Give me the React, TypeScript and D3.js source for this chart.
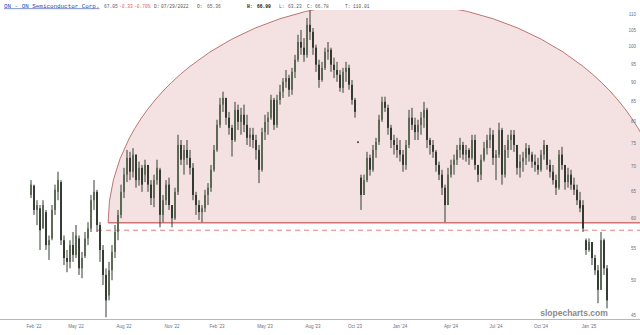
import React from 'react';
import * as d3 from 'd3';

const W = 640;
const H = 335;

// ON Semiconductor, bars (about 2.5 trading days each)
const opens = [
  64.4, 66.2, 61.6, 61.9, 58.3, 61.2, 55.5, 56.6, 61.6, 65.0,
  66.9, 56.3, 53.4, 52.8, 55.5, 53.9, 56.6, 51.8, 53.7, 56.6,
  58.3, 63.4, 65.0, 58.9, 54.7, 50.8, 47.8, 51.5, 54.4, 57.7,
  60.7, 65.0, 68.4, 71.9, 69.0, 72.6, 67.3, 69.8, 68.4, 70.4,
  66.4, 63.8, 67.3, 69.4, 60.7, 63.4, 66.4, 62.5, 60.1, 65.0,
  74.7, 71.5, 73.6, 71.9, 69.8, 64.4, 62.5, 61.2, 61.9, 64.4,
  65.8, 69.4, 73.6, 79.3, 84.2, 85.9, 81.0, 78.6, 75.8, 82.9,
  80.0, 81.7, 79.3, 76.3, 77.0, 75.8, 73.6, 69.4, 77.6, 80.0,
  81.0, 85.4, 79.3, 85.4, 87.5, 90.1, 91.1, 88.0, 92.8, 96.2,
  101.4, 99.7, 97.6, 106.7, 104.5, 99.7, 94.8, 90.6, 93.9, 98.5,
  99.1, 94.8, 93.3, 92.0, 88.5, 92.8, 93.9, 89.3, 85.4, 75.4,
  67.8, 64.4, 67.3, 71.9, 69.4, 73.6, 75.4, 80.5, 84.9, 83.4,
  78.6, 75.8, 74.7, 73.6, 72.6, 70.4, 74.7, 81.0, 79.3, 77.6,
  79.3, 81.0, 82.9, 75.8, 74.7, 73.2, 70.4, 68.4, 65.8, 62.5,
  68.4, 70.4, 71.5, 73.6, 74.7, 72.6, 73.6, 71.9, 75.8, 70.4,
  68.4, 71.5, 74.0, 75.8, 77.0, 71.9, 72.6, 78.1, 68.4, 73.6,
  75.8, 77.0, 74.7, 69.8, 71.1, 71.9, 74.0, 72.6, 71.1, 70.4,
  69.4, 72.6, 74.7, 70.4, 69.0, 67.3, 65.8, 72.6, 70.4, 66.9,
  68.4, 66.4, 65.4, 63.4, 62.5, 56.3, 54.7, 56.0, 53.4, 51.5,
  48.6, 56.3, 51.8,
];
const highs = [
  67.3, 66.4, 63.4, 62.5, 63.4, 61.6, 57.1, 62.5, 66.4, 69.0,
  67.3, 57.1, 54.7, 56.3, 57.7, 58.9, 57.1, 54.4, 57.7, 59.4,
  64.4, 67.3, 65.4, 59.4, 55.5, 51.8, 52.8, 55.5, 58.9, 61.6,
  66.4, 69.8, 73.6, 73.2, 74.0, 72.6, 71.1, 70.4, 71.5, 70.4,
  67.3, 68.4, 71.5, 69.8, 64.4, 67.3, 67.8, 62.5, 65.8, 77.0,
  75.8, 74.7, 75.8, 73.6, 70.8, 65.0, 63.4, 62.5, 65.4, 66.7,
  70.4, 74.7, 80.5, 85.9, 87.5, 85.9, 82.4, 79.3, 84.9, 84.2,
  83.4, 84.2, 81.7, 78.6, 78.6, 77.0, 74.7, 78.6, 81.7, 82.4,
  86.7, 85.9, 86.7, 89.3, 91.1, 93.3, 92.0, 93.9, 97.6, 103.6,
  105.1, 102.6, 108.9, 111.3, 105.7, 100.6, 96.2, 95.6, 99.7, 101.4,
  99.7, 96.8, 95.6, 93.3, 93.9, 95.6, 94.8, 90.6, 85.9, 75.6,
  68.4, 68.4, 73.2, 72.6, 74.7, 76.3, 81.7, 86.2, 86.2, 84.2,
  79.3, 77.0, 76.3, 75.8, 73.6, 75.8, 82.9, 83.4, 81.0, 80.5,
  82.4, 84.9, 83.4, 76.3, 75.8, 73.6, 71.1, 69.4, 66.4, 69.8,
  71.5, 72.6, 74.7, 76.3, 75.4, 74.7, 74.0, 77.0, 77.0, 70.4,
  72.6, 75.4, 77.0, 78.6, 78.1, 73.6, 79.8, 78.6, 74.7, 77.0,
  78.1, 78.1, 74.7, 72.6, 73.2, 75.1, 74.7, 73.2, 72.6, 71.9,
  73.6, 75.8, 74.7, 71.5, 70.4, 68.4, 73.6, 74.3, 70.4, 69.8,
  69.4, 67.8, 66.4, 65.0, 63.4, 56.6, 56.6, 56.0, 53.9, 52.3,
  57.7, 56.6, 52.3,
];
const lows = [
  63.8, 60.7, 58.9, 54.7, 58.3, 54.7, 53.1, 56.3, 60.7, 63.4,
  55.5, 52.3, 51.2, 51.8, 52.8, 53.4, 50.8, 50.3, 53.4, 55.5,
  57.7, 61.6, 57.7, 52.8, 49.3, 44.8, 47.1, 50.0, 53.4, 56.3,
  60.1, 63.8, 66.9, 67.3, 67.8, 65.8, 66.2, 65.0, 66.9, 65.0,
  62.5, 62.1, 66.4, 58.5, 59.4, 62.5, 61.6, 58.5, 59.8, 64.4,
  70.4, 68.4, 70.4, 68.4, 63.4, 60.7, 59.8, 59.4, 61.2, 62.5,
  65.0, 69.0, 73.2, 78.6, 82.4, 79.3, 77.0, 72.2, 75.4, 78.1,
  77.0, 77.6, 74.7, 74.3, 74.0, 71.5, 66.7, 69.0, 75.8, 77.0,
  80.5, 78.1, 78.6, 84.2, 85.9, 88.5, 86.2, 86.7, 91.1, 95.6,
  97.6, 95.6, 96.8, 102.0, 97.6, 92.8, 88.5, 90.1, 93.3, 96.2,
  92.8, 91.1, 90.1, 87.5, 87.2, 90.1, 88.0, 84.2, 81.0, 75.1,
  61.6, 64.4, 66.9, 68.2, 69.0, 71.9, 74.7, 80.0, 82.4, 77.0,
  74.0, 72.6, 71.9, 71.1, 69.0, 69.4, 74.0, 78.1, 75.8, 75.8,
  77.0, 78.6, 74.0, 72.6, 71.9, 69.0, 67.3, 64.4, 59.4, 62.5,
  67.8, 68.4, 70.4, 71.9, 71.5, 71.1, 70.4, 71.5, 69.4, 66.9,
  67.3, 71.1, 72.6, 74.0, 70.4, 67.3, 71.9, 66.4, 67.8, 71.9,
  73.6, 73.2, 68.4, 67.8, 69.0, 70.4, 71.1, 69.8, 69.0, 68.4,
  69.0, 71.5, 69.4, 67.8, 66.4, 64.4, 65.4, 69.4, 65.4, 65.8,
  65.4, 64.4, 62.5, 61.2, 57.7, 53.9, 54.4, 52.3, 50.8, 46.7,
  48.6, 50.8, 46.0,
];
const closes = [
  66.4, 61.6, 62.5, 58.0, 62.5, 55.5, 56.3, 61.6, 65.4, 67.3,
  56.3, 53.4, 52.8, 55.5, 53.9, 57.1, 51.8, 53.4, 56.6, 58.3,
  63.4, 65.0, 58.9, 54.7, 50.8, 47.1, 51.5, 54.4, 57.7, 60.7,
  65.0, 68.4, 71.9, 69.0, 72.6, 67.3, 69.8, 66.4, 70.4, 66.4,
  63.8, 67.3, 69.8, 60.7, 63.4, 66.4, 62.5, 60.1, 65.0, 74.7,
  71.5, 73.6, 71.9, 69.8, 64.4, 62.5, 61.2, 61.9, 64.4, 65.8,
  69.4, 73.6, 79.3, 84.2, 85.9, 81.0, 78.6, 75.8, 82.9, 80.0,
  81.7, 79.3, 76.3, 77.0, 75.8, 73.6, 69.4, 77.6, 80.0, 81.0,
  85.4, 79.3, 85.4, 87.5, 90.1, 91.1, 88.0, 92.8, 96.2, 101.4,
  99.7, 97.6, 106.7, 104.5, 99.7, 94.8, 90.6, 93.9, 98.5, 99.1,
  94.8, 93.3, 92.0, 88.5, 92.8, 93.9, 89.3, 85.4, 82.4, 75.3,
  64.4, 67.3, 71.9, 69.4, 73.6, 75.4, 80.5, 84.9, 83.4, 78.6,
  75.8, 74.7, 73.6, 72.6, 70.4, 74.7, 81.0, 79.3, 77.6, 79.3,
  81.0, 82.9, 75.8, 74.7, 73.2, 70.4, 68.4, 65.8, 62.5, 68.4,
  70.4, 71.5, 73.6, 74.7, 72.6, 73.6, 71.9, 75.8, 70.4, 68.4,
  71.5, 74.0, 75.8, 77.0, 71.9, 72.6, 78.1, 68.4, 73.6, 75.8,
  77.0, 74.7, 69.8, 71.1, 71.9, 74.0, 72.6, 71.1, 70.4, 69.4,
  72.6, 74.7, 70.4, 69.0, 67.3, 65.8, 72.6, 70.4, 66.9, 68.4,
  66.4, 65.4, 63.4, 61.9, 58.3, 54.7, 56.0, 53.4, 51.5, 48.6,
  56.3, 51.8, 47.1,
];

const xTickBars = [1, 15, 31, 47, 62, 78, 94, 108, 123, 140, 155, 170, 186];
const xTickLabels = [
  "Feb '22", "May '22", "Aug '22", "Nov '22", "Feb '23", "May '23", "Aug '23",
  "Oct '23", "Jan '24", "Apr '24", "Jul '24", "Oct '24", "Jan '25",
];
const yTicks = [45, 50, 55, 60, 65, 70, 75, 80, 85, 90, 95, 100, 105, 110];

// annotation: arc drawn from a base level, and a dashed support level
const arcStartBar = 25.7;
const arcEndBar = 211.3;
const arcBasePrice = 59.3;
const arcTopPrice = 114.2;
const supportPrice = 58.0;
const supportStartBar = 22;

const headerTokens = [
  { t: '67.05', x: 104, c: '#555', b: false },
  { t: '-0.33', x: 119, c: '#e05a5a', b: false },
  { t: '-0.70%', x: 134, c: '#e05a5a', b: false },
  { t: 'D:', x: 154, c: '#555', b: false },
  { t: '07/29/2022', x: 161, c: '#555', b: false },
  { t: 'O:', x: 197, c: '#555', b: false },
  { t: '65.36', x: 207, c: '#555', b: false },
  { t: 'H:', x: 247, c: '#111', b: true },
  { t: '66.99', x: 257, c: '#111', b: true },
  { t: 'L:', x: 279, c: '#555', b: false },
  { t: '63.23', x: 288, c: '#555', b: false },
  { t: 'C:', x: 307, c: '#555', b: false },
  { t: '66.78', x: 315, c: '#555', b: false },
  { t: 'T:', x: 345, c: '#555', b: false },
  { t: '110.01', x: 353, c: '#555', b: false },
];

export default function App() {
  const n = closes.length;
  const plotTop = 10;
  const plotBottom = 319.5;
  const x = d3.scaleLinear().domain([0, n - 1]).range([31, 607]);
  const y = d3.scaleLog().domain([44.5, 111.5]).range([plotBottom, plotTop]);

  const ax0 = x(arcStartBar);
  const ax1 = x(arcEndBar);
  const acy = y(arcBasePrice);
  const arx = (ax1 - ax0) / 2;
  const ary = acy - y(arcTopPrice);
  const arcFill = `M${ax0},${acy} A${arx},${ary} 0 0 1 ${ax1},${acy} Z`;
  const arcStroke = `M${ax0},${acy} A${arx},${ary} 0 0 1 ${ax1},${acy}`;

  const bars = d3.range(n).map((i) => ({
    i,
    o: opens[i],
    h: highs[i],
    l: lows[i],
    c: closes[i],
  }));

  const mono = "'Liberation Mono', 'DejaVu Sans Mono', monospace";
  const sans = "'Liberation Sans', Arial, sans-serif";

  return (
    <div style={{ position: 'absolute', left: 0, top: 0 }}>
      <svg width={W} height={H} style={{ display: 'block', background: '#fff' }}>
        <defs>
          <clipPath id="plot">
            <rect x={0} y={plotTop} width={W} height={plotBottom - plotTop} />
          </clipPath>
        </defs>

        <g clipPath="url(#plot)">
          <path d={arcFill} fill="#f4e2e2" stroke="none" />
          <path d={arcStroke} fill="none" stroke="#b46868" strokeWidth={0.9} />
          <line x1={ax0} x2={W} y1={acy} y2={acy} stroke="#cf7474" strokeWidth={1.4} />
          <line
            x1={x(supportStartBar)}
            x2={W}
            y1={y(supportPrice)}
            y2={y(supportPrice)}
            stroke="#e07070"
            strokeWidth={0.9}
            strokeDasharray="5,4"
          />
          {bars.map((b) => {
            const cx = x(b.i);
            const up = b.c >= b.o;
            const yt = y(Math.max(b.o, b.c));
            const yb = y(Math.min(b.o, b.c));
            return (
              <g key={b.i}>
                <line x1={cx} x2={cx} y1={y(b.h)} y2={y(b.l)} stroke="#343d32" strokeWidth={1} />
                <rect
                  x={cx - 0.9}
                  y={yt}
                  width={1.8}
                  height={Math.max(0.8, yb - yt)}
                  fill={up ? '#56654f' : '#2a3128'}
                />
              </g>
            );
          })}
        </g>

        <line x1={0} x2={W} y1={plotBottom} y2={plotBottom} stroke="#b8b8b8" strokeWidth={1} />

        {yTicks.map((v) => (
          <text
            key={v}
            x={636}
            y={y(v)}
            dy="0.35em"
            textAnchor="end"
            fontFamily={sans}
            fontSize={4.5}
            fill="#6a6e84"
          >
            {v}
          </text>
        ))}

        {xTickBars.map((bi, k) => (
          <text
            key={bi}
            x={x(bi)}
            y={327.5}
            textAnchor="middle"
            fontFamily={sans}
            fontSize={4.5}
            fill="#6a6e84"
          >
            {xTickLabels[k]}
          </text>
        ))}

        <text
          x={574}
          y={316}
          textAnchor="middle"
          fontFamily={sans}
          fontWeight="bold"
          fontSize={8.5}
          fill="#8a8a8a"
        >
          slopecharts.com
        </text>

        <text
          x={4}
          y={7.5}
          fontFamily={mono}
          fontSize={5.9}
          fill="#2748b0"
          textDecoration="underline"
        >
          ON - ON Semiconductor Corp.
        </text>
        {headerTokens.map((tk) => (
          <text
            key={tk.x}
            x={tk.x}
            y={7.5}
            fontFamily={mono}
            fontSize={4.6}
            fill={tk.c}
            fontWeight={tk.b ? 'bold' : 'normal'}
          >
            {tk.t}
          </text>
        ))}
      </svg>
    </div>
  );
}
